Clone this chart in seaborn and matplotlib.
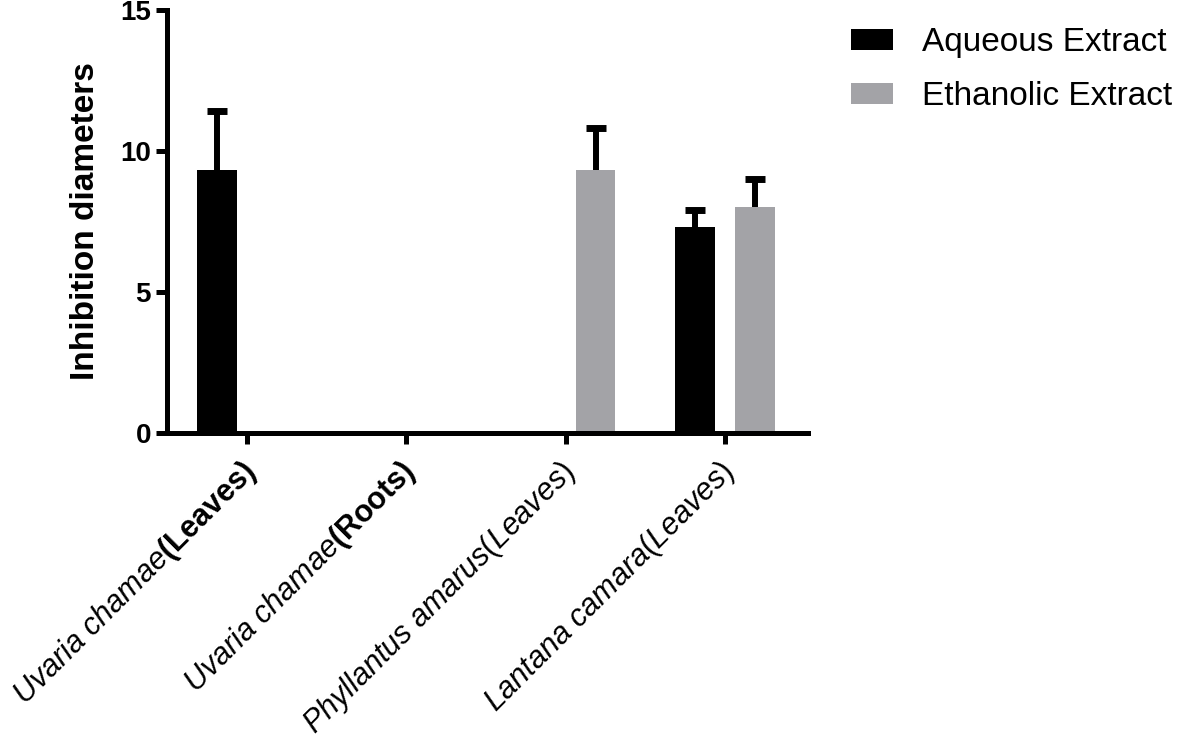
import matplotlib
matplotlib.use("Agg")
import matplotlib.pyplot as plt
import matplotlib.transforms as mtransforms
import seaborn as sns
import pandas as pd

categories = [
    r"$\mathit{Uvaria\ chamae}\mathbf{(Leaves)}$",
    r"$\mathit{Uvaria\ chamae}\mathbf{(Roots)}$",
    r"$\mathit{Phyllantus\ amarus(Leaves)}$",
    r"$\mathit{Lantana\ camara(Leaves)}$",
]
series_names = ["Aqueous Extract", "Ethanolic Extract"]
aqueous = [9.33, 0.0, 0.0, 7.3]
aqueous_err = [2.1, 0.0, 0.0, 0.6]
ethanolic = [0.0, 0.0, 9.33, 8.0]
ethanolic_err = [0.0, 0.0, 1.5, 1.0]
yticks = [0, 5, 10, 15]

sns.set_style("ticks")
plt.rcParams["font.family"] = ["Liberation Sans", "DejaVu Sans"]
plt.rcParams["mathtext.fontset"] = "custom"
plt.rcParams["mathtext.rm"] = "Liberation Sans"
plt.rcParams["mathtext.it"] = "Liberation Sans:italic"
plt.rcParams["mathtext.bf"] = "Liberation Sans:bold"
for key in ["text.color", "axes.labelcolor", "xtick.color", "ytick.color",
            "axes.edgecolor"]:
    plt.rcParams[key] = "black"

df = pd.DataFrame({
    "category": categories * 2,
    "extract": [series_names[0]] * 4 + [series_names[1]] * 4,
    "value": aqueous + ethanolic,
})

fig = plt.figure(figsize=(11.81, 7.47), dpi=100)
ax = fig.add_axes([167 / 1181, 1 - 433 / 747, (808 - 167) / 1181, (433 - 10) / 747])

sns.barplot(data=df, x="category", y="value", hue="extract",
            palette=["#000000", "#a3a3a7"], saturation=1,
            width=0.75, gap=1 / 3, linewidth=0, errorbar=None, ax=ax)

for container, errs in zip(ax.containers, [aqueous_err, ethanolic_err]):
    for bar, e in zip(container, errs):
        h = bar.get_height()
        if h > 0:
            eb = ax.errorbar(bar.get_x() + bar.get_width() / 2, h, yerr=[[0], [e]],
                             fmt="none", ecolor="black", elinewidth=4.3,
                             capsize=7.5, capthick=5, clip_on=False)
            for cap in eb.lines[1]:
                if abs(cap.get_ydata()[0] - h) < 1e-9:
                    cap.set_visible(False)

ax.set_ylim(0, 15)
ax.set_xlim(-0.5, 3.52)
ax.set_yticks(yticks)
ax.set_yticklabels([str(t) for t in yticks], fontsize=20, fontweight="bold")
ax.set_xlabel("")
ax.set_ylabel("Inhibition diameters", fontsize=24, fontweight="bold", labelpad=14)

for side in ["top", "right"]:
    ax.spines[side].set_visible(False)
for side in ["left", "bottom"]:
    ax.spines[side].set_linewidth(3.6)
    ax.spines[side].set_color("black")
ax.tick_params(axis="both", width=3.6, length=8, color="black")
ax.tick_params(axis="x", pad=19)

ax.set_xticks(range(len(categories)))
ax.set_xticklabels(categories, rotation=45, ha="right", va="center",
                   rotation_mode="anchor", fontsize=22)
offset = mtransforms.ScaledTranslation(0.05, 0.03, fig.dpi_scale_trans)
for lbl in ax.get_xticklabels():
    lbl.set_transform(lbl.get_transform() + offset)

sns.move_legend(ax, "upper left", bbox_to_anchor=(851 / 1181, 0.964),
                bbox_transform=fig.transFigure, frameon=False, title=None,
                fontsize=24, handlelength=1.27, handleheight=0.6,
                handletextpad=0.85, labelspacing=0.7, borderpad=0,
                borderaxespad=0)

fig.savefig("out.png", dpi=100)
